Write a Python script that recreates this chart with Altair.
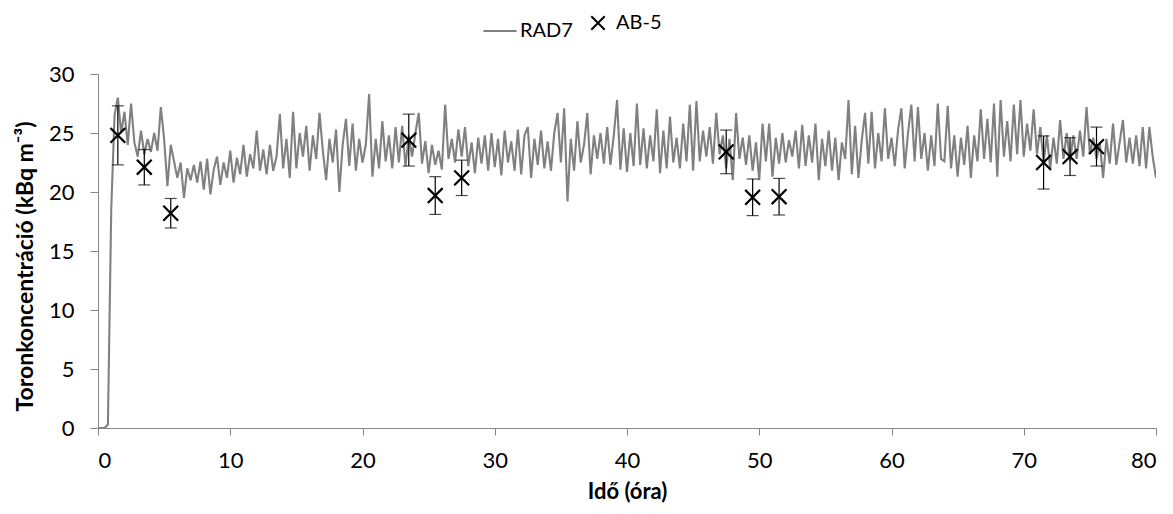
import altair as alt
import pandas as pd

# RAD7 thoron concentration (kBq m-3), one value every 0.25 h from 0 to 80 h
step_h = 0.25
rad7 = [
    0.0, 0.0, 0.0, 0.3,
    18.5, 26.5, 28.0, 25.0,
    26.8, 24.0, 27.5, 24.2,
    23.0, 25.2, 23.2, 24.5,
    23.4, 25.0, 23.5, 27.2,
    24.5, 20.5, 24.0, 22.6,
    21.2, 22.5, 19.5, 22.0,
    21.0, 22.3, 20.8, 22.6,
    20.2, 22.8, 19.8, 21.9,
    23.0, 20.6, 22.5, 21.2,
    23.5, 20.8, 22.9, 21.5,
    24.0, 21.3, 23.2, 22.0,
    25.2, 21.8, 23.6, 21.5,
    24.0, 21.8, 23.0, 26.6,
    22.0, 24.5, 21.2, 26.8,
    22.0, 25.0, 23.0, 25.6,
    21.8, 24.8, 22.8, 26.7,
    23.5, 21.0, 24.5, 22.5,
    25.3, 20.0, 24.0, 26.2,
    22.2, 25.8, 21.8, 24.5,
    22.5, 24.0, 28.3, 21.3,
    24.5, 22.0, 26.0, 22.6,
    24.8, 22.0, 25.5, 22.5,
    25.6, 22.2, 24.8, 23.0,
    25.0, 26.7, 22.4, 24.3,
    21.6, 24.0, 22.3, 23.5,
    21.9, 27.4, 22.8, 24.5,
    22.5, 25.3, 23.0, 25.5,
    22.2, 24.2, 21.6, 24.6,
    22.4, 24.8, 21.8, 25.0,
    22.1, 24.5, 21.4, 25.2,
    22.5, 24.3, 21.8, 25.3,
    21.5, 24.8, 25.5, 21.2,
    24.5, 22.3, 25.2, 22.0,
    24.3, 21.8, 25.0, 26.7,
    22.5, 27.1, 19.2, 24.5,
    21.8, 26.0, 22.5, 24.0,
    26.7, 21.5, 24.8, 22.8,
    25.0, 22.4, 25.5, 22.3,
    24.8, 27.8, 21.9, 25.4,
    21.7, 25.0, 22.2, 27.5,
    22.3, 25.4, 22.0, 24.8,
    22.6, 27.0, 21.6, 25.2,
    22.0, 26.4, 22.5, 24.6,
    22.0, 25.8, 22.6, 27.4,
    21.8, 27.7, 22.6, 25.2,
    23.0, 25.5, 22.4, 26.7,
    23.2, 24.8, 22.0, 24.5,
    21.0, 26.7, 22.8, 24.6,
    22.3, 24.8, 21.8, 24.2,
    21.0, 25.8, 22.6, 25.8,
    21.3, 24.6, 22.4, 25.0,
    22.5, 24.4, 23.0, 25.2,
    22.0, 25.7, 22.2, 24.8,
    22.5, 25.8, 21.0, 24.5,
    22.2, 25.2, 21.8, 24.6,
    21.0, 24.2, 22.8, 27.8,
    21.5, 25.6, 21.2, 24.4,
    26.7, 22.4, 26.8, 22.0,
    25.0, 22.6, 27.1, 22.8,
    24.6, 22.2, 25.3, 27.1,
    22.0, 25.0, 27.4, 22.6,
    27.2, 22.8, 25.0, 21.8,
    24.8, 22.2, 27.5, 22.8,
    22.6, 27.3, 22.0, 24.8,
    21.3, 24.6, 22.3, 25.6,
    21.2, 24.8, 22.6, 27.0,
    22.8, 26.2, 22.5, 27.5,
    21.3, 27.8, 23.0, 26.0,
    22.6, 27.4, 23.2, 27.8,
    23.0, 25.8, 23.5, 27.0,
    23.2, 25.5, 22.5, 24.8,
    22.0, 24.6, 22.4, 26.1,
    22.8, 25.0, 22.6, 24.8,
    22.8, 25.2, 23.0, 27.2,
    23.2, 24.6, 22.8, 24.2,
    21.2, 24.5, 22.4, 25.8,
    22.3, 24.2, 26.1, 22.5,
    24.6, 22.4, 24.8, 22.2,
    25.5, 22.0, 25.5, 23.0,
    21.2,
]
rad7_time = [i * step_h for i in range(len(rad7))]

# AB-5 measurements
ab5_time = [1.5, 3.5, 5.5, 23.5, 25.5, 27.5, 47.5, 49.5, 51.5, 71.5, 73.5, 75.5]
ab5_val = [24.8, 22.1, 18.2, 24.4, 19.7, 21.2, 23.4, 19.55, 19.6, 22.5, 23.0, 23.85]
ab5_err = [2.5, 1.5, 1.25, 2.2, 1.6, 1.5, 1.85, 1.55, 1.55, 2.25, 1.6, 1.65]

x_ticks = list(range(0, 81, 10))
y_ticks = list(range(0, 31, 5))

df_line = pd.DataFrame({"t": rad7_time, "v": rad7, "series": "RAD7"})
df_ab = pd.DataFrame({"t": ab5_time, "v": ab5_val, "err": ab5_err})
df_ab["lo"] = df_ab["v"] - df_ab["err"]
df_ab["hi"] = df_ab["v"] + df_ab["err"]
df_ab["series"] = "AB-5"

FONT = "Lato"
xscale = alt.Scale(domain=[0, 80], nice=False, zero=False)
yscale = alt.Scale(domain=[0, 30], nice=False)

x_axis = alt.Axis(values=x_ticks, title="Idő (óra)", labelPadding=15, titlePadding=10,
                  tickSize=7, titleFontSize=22)
y_axis = alt.Axis(values=y_ticks, title="Toronkoncentráció (kBq m⁻³)", labelPadding=16,
                  tickSize=8, titleFontSize=23, titleAngle=-90, titleAlign="center",
                  titleBaseline="middle", titleX=-73, titleY=192)


def xenc(field):
    return alt.X(field, scale=xscale, axis=x_axis)


def yenc(field):
    return alt.Y(field, scale=yscale, axis=y_axis)


line = alt.Chart(df_line).mark_line(strokeWidth=2.1, clip=True).encode(
    x=xenc("t:Q"),
    y=yenc("v:Q"),
    color=alt.Color(
        "series:N",
        scale=alt.Scale(domain=["RAD7"], range=["#808080"]),
        legend=alt.Legend(
            title=None, orient="none", legendX=384, legendY=-61,
            symbolType="stroke", symbolStrokeWidth=2, symbolSize=1100,
            labelFont=FONT, labelFontSize=20, labelColor="black", padding=0,
            labelOffset=2,
        ),
    ),
)

rules = alt.Chart(df_ab).mark_rule(color="black", strokeWidth=1.2).encode(
    x=xenc("t:Q"),
    y=yenc("lo:Q"),
    y2="hi:Q",
)
cap_lo = alt.Chart(df_ab).mark_tick(color="black", orient="horizontal", size=12, thickness=1.2).encode(
    x=xenc("t:Q"),
    y=yenc("lo:Q"),
)
cap_hi = alt.Chart(df_ab).mark_tick(color="black", orient="horizontal", size=12, thickness=1.2).encode(
    x=xenc("t:Q"),
    y=yenc("hi:Q"),
)

xpath = "M-1,-1L1,1M-1,1L1,-1"
points = alt.Chart(df_ab).mark_point(filled=False, strokeWidth=2.2, size=220, color="black", opacity=1).encode(
    x=xenc("t:Q"),
    y=yenc("v:Q"),
    shape=alt.Shape(
        "series:N",
        scale=alt.Scale(domain=["AB-5"], range=[xpath]),
        legend=alt.Legend(
            title=None, orient="none", legendX=490, legendY=-61,
            symbolStrokeColor="black", symbolFillColor="transparent",
            symbolStrokeWidth=2, symbolSize=180,
            labelFont=FONT, labelFontSize=20, labelColor="black", padding=0,
            labelOffset=8,
        ),
    ),
)

chart = alt.layer(line, rules, cap_lo, cap_hi, points).resolve_legend(
    color="independent", shape="independent"
).properties(
    width=1058,
    height=354,
    autosize=alt.AutoSizeParams(type="none"),
    padding={"left": 98, "top": 74, "right": 17, "bottom": 86},
    background="white",
).configure_view(
    stroke=None
).configure_axis(
    grid=False,
    domainColor="#868686",
    tickColor="#868686",
    domainWidth=1,
    labelFont=FONT,
    labelFontSize=22,
    labelColor="black",
    titleFont=FONT,
    titleFontWeight="bold",
    titleColor="black",
)

chart.save("out.html", embed_options={"renderer": "svg", "actions": False})
